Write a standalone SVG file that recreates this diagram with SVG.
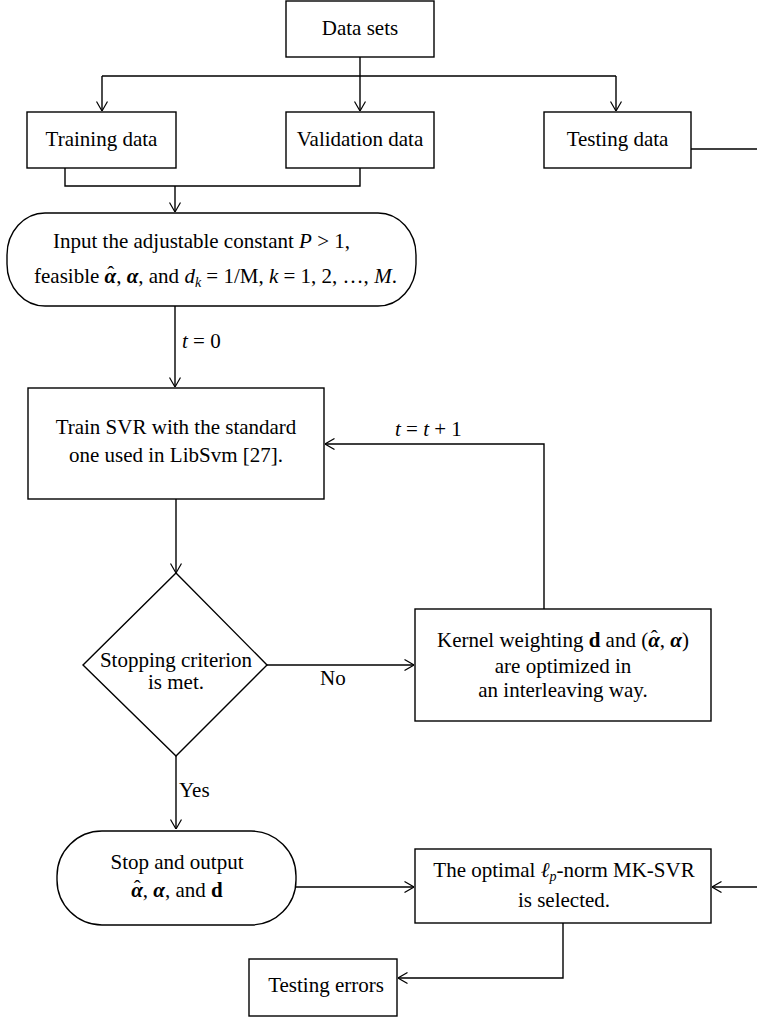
<svg xmlns="http://www.w3.org/2000/svg" width="757" height="1018" viewBox="0 0 757 1018" font-family="Liberation Serif, Times New Roman, serif">
<defs>
<marker id="arr" viewBox="0 0 10 12" refX="10" refY="6" markerWidth="10" markerHeight="12" markerUnits="userSpaceOnUse" orient="auto">
<path d="M0.5,0.5 L10,6 L0.5,11.5" fill="none" stroke="#000" stroke-width="1.2"/>
</marker>
<style>
.box{fill:#fff;stroke:#000;stroke-width:1.4}
.ln{fill:none;stroke:#000;stroke-width:1.4}
text{font-family:"Liberation Serif","Times New Roman",serif;font-size:21px;fill:#000}
.t{text-anchor:middle}
.i{font-style:italic}
.b{font-weight:bold}
.bi{font-weight:bold;font-style:italic}
.s{font-size:14px;font-style:italic}
.h{font-weight:normal;font-style:normal}
</style>
</defs>
<rect width="757" height="1018" fill="#fff"/>
<g id="connectors">
<path class="ln" d="M360,57 V76 M102,76 H616"/>
<path class="ln" d="M102,76 V111" marker-end="url(#arr)"/>
<path class="ln" d="M360,76 V111" marker-end="url(#arr)"/>
<path class="ln" d="M616,76 V111" marker-end="url(#arr)"/>
<path class="ln" d="M691,149 H757"/>
<path class="ln" d="M65,168 V186 H360 V168"/>
<path class="ln" d="M175,186 V212" marker-end="url(#arr)"/>
<path class="ln" d="M175,306 V387" marker-end="url(#arr)"/>
<path class="ln" d="M176,499 V573" marker-end="url(#arr)"/>
<path class="ln" d="M267,665 H414" marker-end="url(#arr)"/>
<path class="ln" d="M544,609 V444 H325" marker-end="url(#arr)"/>
<path class="ln" d="M176,756 V829" marker-end="url(#arr)"/>
<path class="ln" d="M296,887 H414" marker-end="url(#arr)"/>
<path class="ln" d="M757,887 H712" marker-end="url(#arr)"/>
<path class="ln" d="M563,923 V978 H398" marker-end="url(#arr)"/>
<text x="182" y="348"><tspan class="i">t</tspan> = 0</text>
<text x="395" y="436"><tspan class="i">t</tspan> = <tspan class="i">t</tspan> + 1</text>
<text x="320" y="685">No</text>
<text x="179" y="797">Yes</text>
</g>
<g id="data-sets">
<rect class="box" x="286" y="1" width="148" height="56"/>
<text class="t" x="360" y="35">Data sets</text>
</g>
<g id="training-data">
<rect class="box" x="27" y="112" width="149" height="56"/>
<text class="t" x="101.5" y="146">Training data</text>
</g>
<g id="validation-data">
<rect class="box" x="286" y="112" width="148" height="56"/>
<text class="t" x="360" y="146">Validation data</text>
</g>
<g id="testing-data">
<rect class="box" x="544" y="112" width="147" height="56"/>
<text class="t" x="617.5" y="146">Testing data</text>
</g>
<g id="input">
<rect class="box" x="7" y="213" width="409" height="93" rx="38" ry="42"/>
<text x="53" y="248">Input the adjustable constant <tspan class="i">P</tspan> &gt; 1,</text>
<text x="34" y="283">feasible <tspan class="bi">α</tspan><tspan class="h" dx="-9" dy="-2">ˆ</tspan><tspan dx="2" dy="2">, </tspan><tspan class="bi">α</tspan>, and <tspan class="i">d</tspan><tspan class="s" dy="4">k</tspan><tspan dy="-4"> = 1/M, </tspan><tspan class="i">k</tspan> = 1, 2, …, <tspan class="i">M</tspan>.</text>
</g>
<g id="train-svr">
<rect class="box" x="28" y="388" width="296" height="111"/>
<text class="t" x="176" y="434">Train SVR with the standard</text>
<text class="t" x="176" y="462">one used in LibSvm [27].</text>
</g>
<g id="stopping-criterion">
<polygon class="box" points="176,573 267,665 176,756 83,665"/>
<text class="t" x="176" y="667">Stopping criterion</text>
<text class="t" x="176" y="689">is met.</text>
</g>
<g id="kernel-weighting">
<rect class="box" x="415" y="609" width="296" height="112"/>
<text class="t" x="563" y="647">Kernel weighting <tspan class="b">d</tspan> and (<tspan class="bi">α</tspan><tspan class="h" dx="-9" dy="-2">ˆ</tspan><tspan dx="2" dy="2">, </tspan><tspan class="bi">α</tspan>)</text>
<text class="t" x="563" y="673">are optimized in</text>
<text class="t" x="563" y="697">an interleaving way.</text>
</g>
<g id="stop-output">
<rect class="box" x="57" y="831" width="239" height="94" rx="45" ry="45"/>
<text class="t" x="177" y="869">Stop and output</text>
<text class="t" x="177" y="897"><tspan class="bi">α</tspan><tspan class="h" dx="-9" dy="-2">ˆ</tspan><tspan dx="2" dy="2">, </tspan><tspan class="bi">α</tspan>, and <tspan class="b">d</tspan></text>
</g>
<g id="optimal-selected">
<rect class="box" x="415" y="849" width="296" height="74"/>
<text class="t" x="564" y="877">The optimal <tspan class="i">ℓ</tspan><tspan class="s" dy="4">p</tspan><tspan dy="-4">-norm MK-SVR</tspan></text>
<text class="t" x="564" y="907">is selected.</text>
</g>
<g id="testing-errors">
<rect class="box" x="249" y="959" width="148" height="57"/>
<text class="t" x="326" y="992">Testing errors</text>
</g>
</svg>
